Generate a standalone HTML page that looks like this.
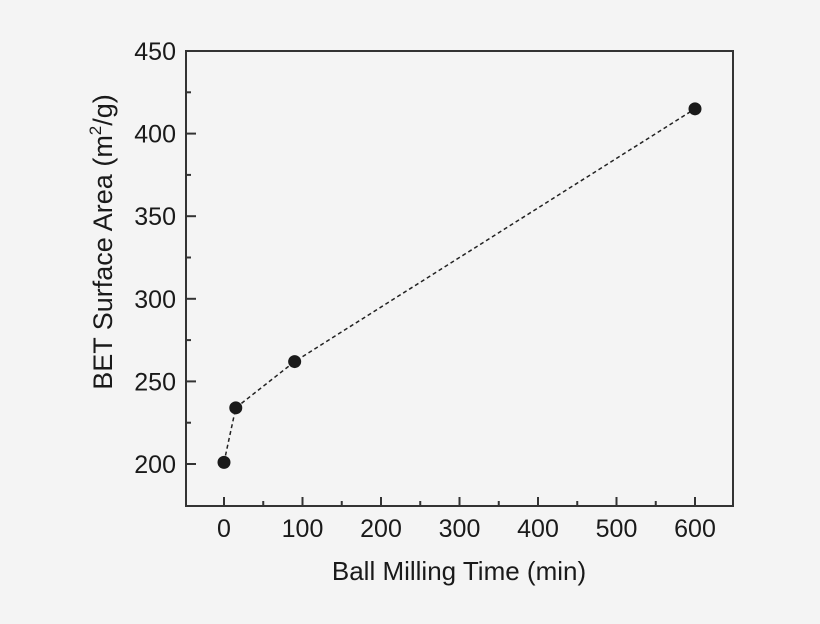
<!DOCTYPE html>
<html><head><meta charset="utf-8"><style>
body{margin:0;background:#f4f4f4;}
svg{display:block;font-family:"Liberation Sans",sans-serif;}
</style></head><body>
<svg id="chart" width="820" height="624" viewBox="0 0 820 624">
<rect width="820" height="624" fill="#f4f4f4"/>
<g id="axes"></g>
<g id="series"></g>
</svg>
<script>
const xValues=[0,15,90,600];
const yValues=[201,234,262,415];
const xTicks=[0,100,200,300,400,500,600];
const yTicks=[200,250,300,350,400,450];
const L=186,R=733,T=51,B=506;
function sx(v){return 224+v*0.785;}
function sy(v){return 464-(v-200)*82.6/50;}
const NS="http://www.w3.org/2000/svg";
function mk(tag,attrs,parent){const e=document.createElementNS(NS,tag);for(const k in attrs)e.setAttribute(k,attrs[k]);parent.appendChild(e);return e;}
const ax=document.getElementById('axes');
const fr=mk('rect',{x:L,y:T,width:R-L,height:B-T,fill:'none',stroke:'#333','stroke-width':2},ax);


xTicks.forEach(v=>{
 const x=sx(v);
 const t=mk('line',{x1:x,x2:x,y1:B,y2:B-9,stroke:'#333','stroke-width':2},ax);
 
 
 if(v<600){
 const m=mk('line',{x1:sx(v+50),x2:sx(v+50),y1:B,y2:B-5,stroke:'#333','stroke-width':2},ax);
 
 }
 const tx=mk('text',{x:x,y:B+31,'text-anchor':'middle','font-size':25,fill:'#1a1a1a'},ax);
 tx.textContent=v;
 
 
});
yTicks.forEach(v=>{
 const y=sy(v);
 const t=mk('line',{x1:L,x2:L+10,y1:y,y2:y,stroke:'#333','stroke-width':2},ax);
 
 
 if(v<450){
 const m=mk('line',{x1:L,x2:L+5,y1:sy(v+25),y2:sy(v+25),stroke:'#333','stroke-width':2},ax);
 
 }
 const tx=mk('text',{x:L-10,y:y+9,'text-anchor':'end','font-size':25,fill:'#1a1a1a'},ax);
 tx.textContent=v;
 
 
});
const xt=mk('text',{x:459,y:580,'text-anchor':'middle','font-size':26,fill:'#1a1a1a'},ax);
xt.textContent='Ball Milling Time (min)';


const yt=mk('text',{transform:'translate(112,242) rotate(-90)','text-anchor':'middle','font-size':27,fill:'#1a1a1a'},ax);
yt.innerHTML='BET Surface Area (m<tspan dy="-11" font-size="17">2</tspan><tspan dy="11">/g)</tspan>';


const sg=document.getElementById('series');
const pts=xValues.map((x,i)=>sx(x)+','+sy(yValues[i])).join(' ');
const pl=mk('polyline',{points:pts,fill:'none',stroke:'#222','stroke-width':1.5,'stroke-dasharray':'4,3'},sg);


xValues.forEach((x,i)=>{
 const c=mk('circle',{cx:sx(x),cy:sy(yValues[i]),r:6.5,fill:'#1a1a1a'},sg);
 
 
});
</script>
</body></html>
